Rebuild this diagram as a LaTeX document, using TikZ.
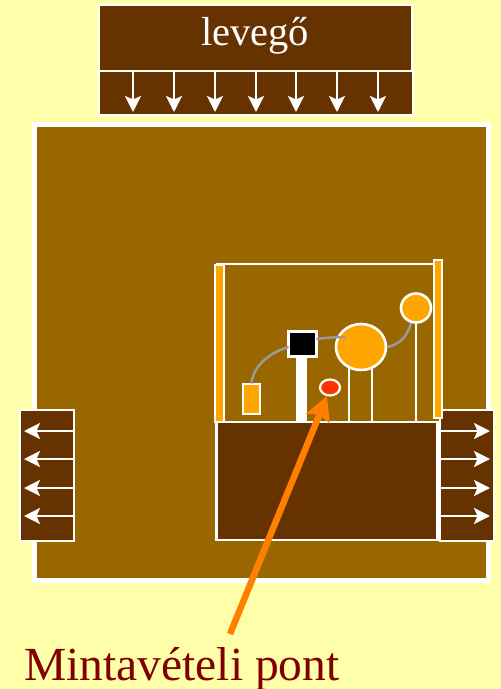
\documentclass[tikz,border=0pt]{standalone}
\usepackage{fontspec}
\setmainfont{Liberation Serif}
\usetikzlibrary{arrows.meta,shapes.geometric}
\definecolor{bgy}{HTML}{FFFFAA}
\definecolor{midbrown}{HTML}{996600}
\definecolor{darkbrown}{HTML}{663300}
\definecolor{amber}{HTML}{FFA500}
\definecolor{redspot}{HTML}{FF3300}
\definecolor{pointer}{HTML}{FF8000}
\definecolor{wire}{HTML}{9A9A9A}
\definecolor{labelred}{HTML}{800000}
\tikzset{
  x=1pt,y=-1pt,
  brownbox/.style={rectangle,draw=white,fill=darkbrown,line width=2.5pt,inner sep=0pt,outer sep=0pt},
  ambarbox/.style={rectangle,draw=white,fill=amber,line width=2pt,inner sep=0pt,outer sep=0pt},
  globe/.style={ellipse,draw=white,fill=amber,line width=2.6pt,inner sep=0pt,outer sep=0pt},
  flow/.style={white,line width=2.1pt,-{Stealth[length=16pt,width=16pt,inset=3.5pt]}},
  thin white/.style={white,line width=2.2pt},
  wireline/.style={wire,line width=2.5pt},
}
\newcommand{\boxat}[6][brownbox]{% style,name,x1,y1,x2,y2
  \node[#1,minimum width=#5pt-#3pt,minimum height=#6pt-#4pt,anchor=north west] (#2) at (#3,#4) {};}
\begin{document}
\begin{tikzpicture}
\useasboundingbox (0,0) rectangle (501,689);
\fill[bgy] (0,0) rectangle (501,689);
% main chamber
\node[rectangle,draw=white,fill=midbrown,line width=5pt,inner sep=0pt,outer sep=0pt,minimum width=453.5pt,minimum height=456pt,anchor=north west] (chamber) at (34.5,124.5) {};
% air inlet
\boxat{air}{99}{5}{412}{71}
\boxat{inlet}{99}{71}{413}{115}
\node[white,font=\fontsize{40.5}{40.5}\selectfont,anchor=base,inner sep=0pt] (airtext) at (255,45) {levegő};
\foreach \x in {133,174,215,256,296,337,378}{
  \coordinate (a\x) at (\x,72);
  \coordinate (b\x) at (\x,112);
  \draw[flow] (a\x) -- (b\x);
}
% outlets
\boxat{leftout}{20}{410}{74}{541}
\boxat{base}{216.5}{422}{437.5}{540}
\boxat{rightout}{440}{410}{494}{541}
\foreach \y in {431,459,488,516}{
  \coordinate (l\y) at (73,\y);
  \coordinate (lt\y) at (24,\y);
  \draw[flow] (l\y) -- (lt\y);
  \coordinate (r\y) at (441,\y);
  \coordinate (rt\y) at (490,\y);
  \draw[flow] (r\y) -- (rt\y);
}
% instrument frame
\coordinate (fb) at (216,264);
\coordinate (fc) at (435,264);
\draw[thin white] (fb) -- (fc);
\boxat[ambarbox]{leftbar}{215}{264.5}{223.5}{421.5}
\boxat[ambarbox]{rightbar}{433.5}{260}{441.5}{417.5}
% wires
\boxat[ambarbox]{sensor}{243}{383.5}{260}{414}
\node[globe,minimum width=50pt,minimum height=46pt] (bigglobe) at (361,347) {};
\node[globe,minimum width=30pt,minimum height=29pt] (smallglobe) at (416,308) {};
\coordinate (j1) at (345,337);
\draw[thin white] (349,368) coordinate (s1) -- (349,422) coordinate (s1b);
\draw[thin white] (372,368) coordinate (s2) -- (372,422) coordinate (s2b);
\draw[thin white] (416,322) coordinate (s3) -- (416,422) coordinate (s3b);
\node[rectangle,draw=white,fill=black,line width=2.4pt,inner sep=0pt,outer sep=0pt,minimum width=28pt,minimum height=25pt,anchor=north west] (pump) at (288.5,331.5) {};
\node[rectangle,fill=white,inner sep=0pt,outer sep=0pt,minimum width=10.5pt,minimum height=65pt,anchor=north west] (column) at (296,358) {};
\draw[wireline] (sensor.north) .. controls (253,367) and (268,353) .. (pump.west |- 0,347);
\draw[wireline] (pump.east |- 0,339) .. controls (325,338) and (335,337) .. (j1);
\draw[wireline] (387,347) .. controls (398,345) and (407,338) .. (411,323);
\node[ellipse,draw=white,fill=redspot,line width=2.2pt,inner sep=0pt,outer sep=0pt,minimum width=20pt,minimum height=16pt] (spot) at (330,387.5) {};
% label
\node[labelred,font=\fontsize{47.5}{47.5}\selectfont,anchor=base west,inner sep=0pt] (label) at (24,680) {Mintavételi pont};
\coordinate (ptail) at (230,634);
\coordinate (ptip) at (327,396);
\draw[pointer,line width=6.5pt,-{Stealth[length=24pt,width=25pt,inset=4pt]}] (ptail) -- (ptip);
\end{tikzpicture}
\end{document}
